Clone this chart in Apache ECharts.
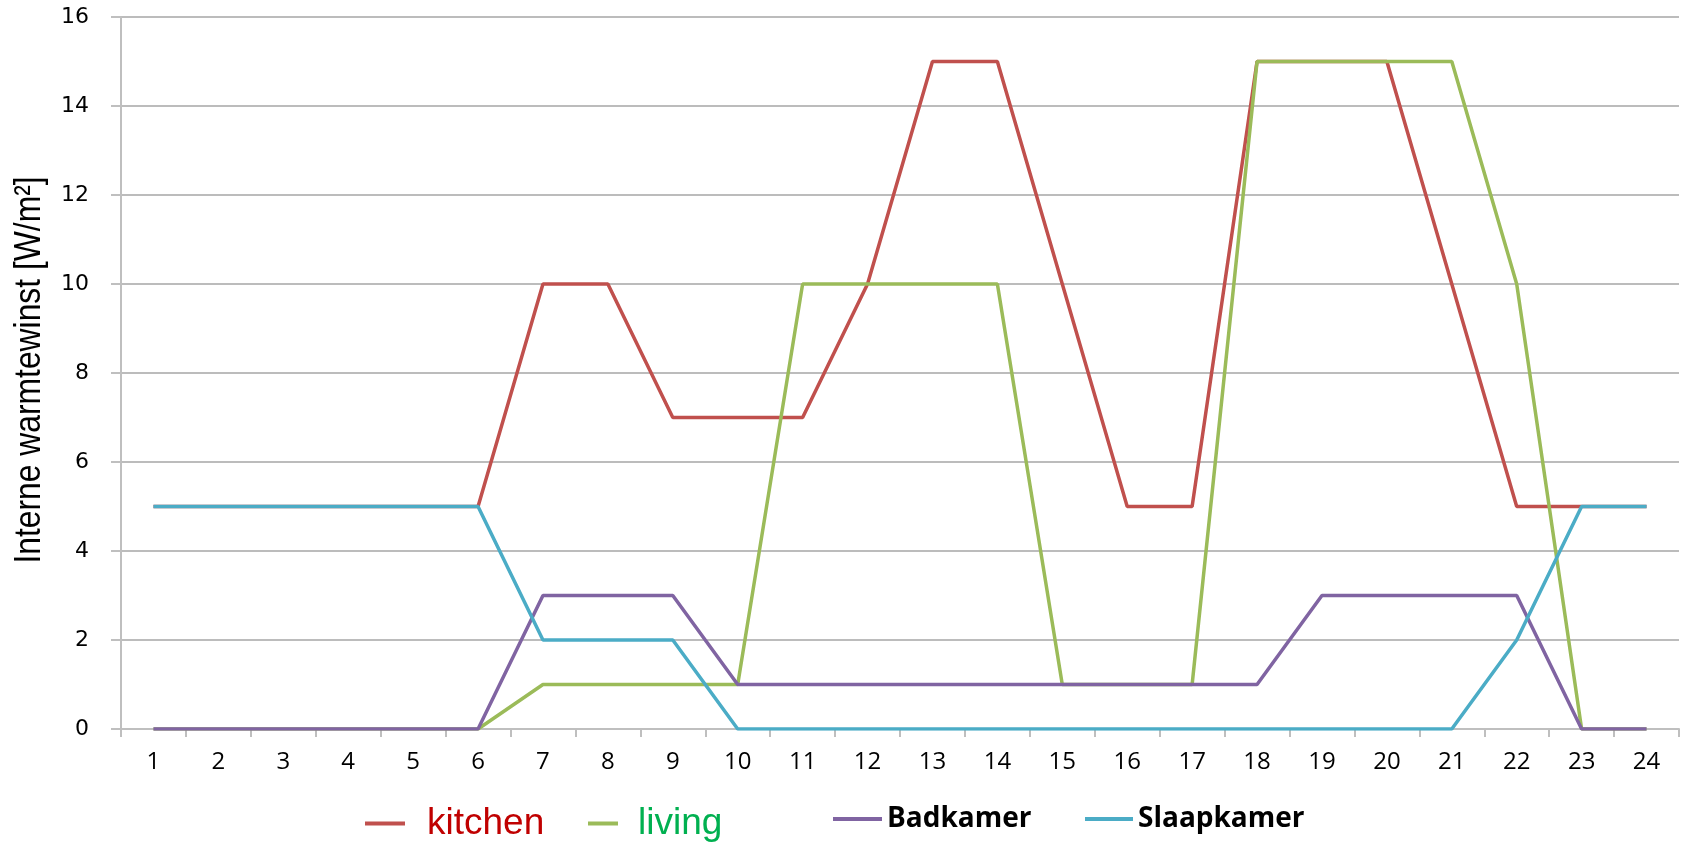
<!DOCTYPE html>
<html>
<head>
<meta charset="utf-8">
<script src="https://cdn.jsdelivr.net/npm/echarts@6/dist/echarts.min.js"></script>
<style>
  html, body { margin: 0; padding: 0; background: #ffffff; }
  #chart { width: 1691px; height: 845px; }
</style>
</head>
<body>
<div id="chart"></div>
<script>
// Hours of the day
const hours = ['1','2','3','4','5','6','7','8','9','10','11','12','13','14','15','16','17','18','19','20','21','22','23','24'];

// Internal heat gain per room [W/m²]
const kitchen    = [5, 5, 5, 5, 5, 5, 10, 10, 7, 7, 7, 10, 15, 15, 10, 5, 5, 15, 15, 15, 10, 5, 5, 5];
const living     = [0, 0, 0, 0, 0, 0, 1, 1, 1, 1, 10, 10, 10, 10, 1, 1, 1, 15, 15, 15, 15, 10, 0, 0];
const badkamer   = [0, 0, 0, 0, 0, 0, 3, 3, 3, 1, 1, 1, 1, 1, 1, 1, 1, 1, 3, 3, 3, 3, 0, 0];
const slaapkamer = [5, 5, 5, 5, 5, 5, 2, 2, 2, 0, 0, 0, 0, 0, 0, 0, 0, 0, 0, 0, 0, 2, 5, 5];

const yTicks = { min: 0, max: 16, interval: 2 };
const yTitle = 'Interne warmtewinst [W/m²]';

const colors = {
  kitchen: '#c0504d',
  living: '#9bbb59',
  badkamer: '#8064a2',
  slaapkamer: '#4bacc6'
};

function lineSeries(name, data, color) {
  return {
    name: name,
    type: 'line',
    data: data,
    symbol: 'none',
    showSymbol: false,
    lineStyle: { color: color, width: 3.5 },
    itemStyle: { color: color },
    emphasis: { disabled: true },
    animation: false
  };
}

function legendItem(name, left, top, iconW, textStyle) {
  return {
    data: [name],
    left: left,
    top: top,
    padding: 0,
    icon: 'rect',
    itemWidth: iconW,
    itemHeight: 4,
    selectedMode: false,
    textStyle: textStyle
  };
}

const chart = echarts.init(document.getElementById('chart'), null, { renderer: 'canvas' });

chart.setOption({
  backgroundColor: '#ffffff',
  animation: false,
  grid: { left: 121, right: 12, top: 17, bottom: 116, containLabel: false },
  legend: [
    legendItem('kitchen', 365, 805, 40, {
      color: '#c00000', fontFamily: 'Liberation Sans', fontSize: 37,
      padding: [0, 0, 0, 17]
    }),
    legendItem('living', 588, 805, 30, {
      color: '#00b050', fontFamily: 'Liberation Sans', fontSize: 37,
      padding: [0, 0, 0, 15]
    }),
    legendItem('Badkamer', 833, 805, 49, {
      color: '#000000', fontFamily: 'Open Sans', fontWeight: 'bold', fontSize: 28,
      padding: [0, 0, 0, 0]
    }),
    legendItem('Slaapkamer', 1085, 805, 48, {
      color: '#000000', fontFamily: 'Open Sans', fontWeight: 'bold', fontSize: 28,
      padding: [0, 0, 0, 0]
    })
  ],
  // Condensed vertical axis title
  graphic: [{
    type: 'text',
    x: 30,
    y: 370,
    rotation: Math.PI / 2,
    scaleX: 0.86,
    silent: true,
    style: {
      text: yTitle,
      fill: '#000000',
      font: '37px "Liberation Sans"',
      align: 'center',
      verticalAlign: 'middle'
    }
  }],
  xAxis: {
    type: 'category',
    data: hours,
    boundaryGap: true,
    axisLine: { show: true, lineStyle: { color: '#bfbfbf', width: 2 } },
    axisTick: { show: true, length: 8, alignWithLabel: false, lineStyle: { color: '#bfbfbf', width: 2 } },
    axisLabel: { margin: 21, color: '#000000', fontFamily: 'Open Sans', fontSize: 24, interval: 0 },
    splitLine: { show: false }
  },
  yAxis: {
    type: 'value',
    min: yTicks.min,
    max: yTicks.max,
    interval: yTicks.interval,
    axisLine: { show: true, lineStyle: { color: '#bfbfbf', width: 2 } },
    axisTick: { show: true, inside: false, length: 10, lineStyle: { color: '#bfbfbf', width: 2 } },
    axisLabel: { margin: 32, color: '#000000', fontFamily: 'DejaVu Sans', fontSize: 22 },
    splitLine: { show: true, lineStyle: { color: '#a6a6a6', width: 1.5 } }
  },
  series: [
    lineSeries('kitchen', kitchen, colors.kitchen),
    lineSeries('living', living, colors.living),
    lineSeries('Badkamer', badkamer, colors.badkamer),
    lineSeries('Slaapkamer', slaapkamer, colors.slaapkamer)
  ]
});
</script>
</body>
</html>
